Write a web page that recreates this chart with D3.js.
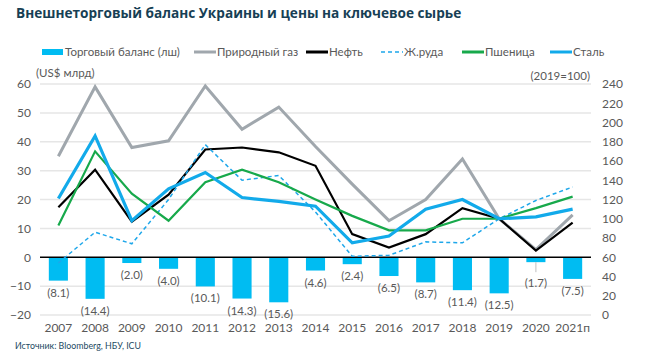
<!DOCTYPE html>
<html><head><meta charset="utf-8">
<script src="https://cdn.jsdelivr.net/npm/d3@7"></script>
<style>
body{margin:0;background:#fff;}
svg{display:block;font-family:Lato, "Open Sans", sans-serif;}
</style></head>
<body>
<svg id="c" width="659" height="356"></svg>
<script>
const years = ["2007","2008","2009","2010","2011","2012","2013","2014","2015","2016","2017","2018","2019","2020","2021п"];
const tradeBalance = [-8.1,-14.4,-2.0,-4.0,-10.1,-14.3,-15.6,-4.6,-2.4,-6.5,-8.7,-11.4,-12.5,-1.7,-7.5];
const gas   = [165,237,174,181,238,193,216,175,136,98,120,162,100,68,104];
const oil   = [112,151,97,125,172,174,169,155,84,70,84,111,100,67,96];
const ore   = [54,86,74,120,177,140,145,107,61,62,76,75,100,119,133];
const wheat = [93,170,126,98,138,151,138,120,103,88,88,100,100,111,123];
const steel = [121,186,98,131,148,122,118,113,75,82,110,120,100,102,110];
const leftTicks = [-20,-10,0,10,20,30,40,50,60];
const rightTicks = [0,20,40,60,80,100,120,140,160,180,200,220,240];

const svg = d3.select("#c");
const x = d3.scaleBand().domain(years).range([40,591]).paddingInner(0.48).paddingOuter(0.24);
const yL = d3.scaleLinear().domain([-20,60]).range([315,84]);
const yR = d3.scaleLinear().domain([0,240]).range([315,84]);
const cx = d => x(d) + x.bandwidth()/2;

// title
const title = svg.append("text").attr("x",16).attr("y",18)
  .attr("font-family","'Open Sans', sans-serif").attr("font-weight","bold").attr("font-size",15)
  .attr("fill","#173f55").text("Внешнеторговый баланс Украины и цены на ключевое сырье");
const tw = title.node().getComputedTextLength();
title.attr("font-size", 15*446/tw);

// grid
svg.append("g").selectAll("line").data(leftTicks.filter(d=>d!==0)).join("line")
  .attr("x1",40).attr("x2",591).attr("y1",d=>yL(d)).attr("y2",d=>yL(d))
  .attr("stroke","#e6e6e6").attr("stroke-width",1.5);

// left axis
const axL = d3.axisLeft(yL).tickValues(leftTicks).tickSize(0).tickPadding(0);
const gL = svg.append("g").attr("transform","translate(31,0)").call(axL);
gL.select(".domain").remove();
gL.selectAll("text").attr("font-size",12).attr("fill","#595959").attr("font-family","Lato, sans-serif");

// right axis
const axR = d3.axisRight(yR).tickValues(rightTicks).tickSize(0).tickPadding(0);
const gR = svg.append("g").attr("transform","translate(602,0)").call(axR);
gR.select(".domain").remove();
gR.selectAll("text").attr("font-size",12).attr("fill","#595959").attr("font-family","Lato, sans-serif");

// x axis labels
const axX = d3.axisBottom(x).tickSize(0).tickPadding(0);
const gX = svg.append("g").attr("transform","translate(0,323)").call(axX);
gX.select(".domain").remove();
gX.selectAll("text").attr("font-size",12).attr("fill","#595959").attr("font-family","Lato, sans-serif");

// unit labels
svg.append("text").attr("x",36).attr("y",77).attr("font-size",11.5).attr("fill","#595959").text("(US$ млрд)");
svg.append("text").attr("x",590).attr("y",80).attr("text-anchor","end").attr("font-size",11.5).attr("fill","#595959").text("(2019=100)");

// bars
const barColor = "#00bcf2";
svg.append("g").selectAll("rect").data(tradeBalance).join("rect")
  .attr("x",(d,i)=>x(years[i])).attr("width",x.bandwidth())
  .attr("y",yL(0)).attr("height",d=>yL(d)-yL(0)).attr("fill",barColor);

// bar labels
const fmt = d => "(" + Math.abs(d).toFixed(1) + ")";
svg.append("g").selectAll("text").data(tradeBalance).join("text")
  .attr("x",(d,i)=>cx(years[i]))
  .attr("y",(d,i)=> yL(d) + (i===13 ? 25 : 16))
  .attr("text-anchor","middle").attr("font-size",11.5).attr("fill","#595959")
  .text(fmt);
// leader line for small 2020 bar
svg.append("line").attr("x1",cx(years[13])).attr("x2",cx(years[13]))
  .attr("y1",yL(tradeBalance[13])).attr("y2",yL(tradeBalance[13])+10)
  .attr("stroke","#bfbfbf").attr("stroke-width",1);

// zero line
svg.append("line").attr("x1",40).attr("x2",591).attr("y1",yL(0)).attr("y2",yL(0))
  .attr("stroke","#000").attr("stroke-width",1.5);

// lines
const line = d3.line().x((d,i)=>cx(years[i])).y(d=>yR(d));
const series = [
  {data:gas, color:"#a0a7ad", w:3, dash:null},
  {data:oil, color:"#000000", w:2.2, dash:null},
  {data:ore, color:"#1ea7ea", w:1.5, dash:"4,3"},
  {data:wheat, color:"#17a94b", w:2.2, dash:null},
  {data:steel, color:"#12aaea", w:3.2, dash:null}
];
svg.append("g").selectAll("path").data(series).join("path")
  .attr("d",s=>line(s.data)).attr("fill","none")
  .attr("stroke",s=>s.color).attr("stroke-width",s=>s.w)
  .attr("stroke-dasharray",s=>s.dash).attr("stroke-linejoin","miter");

// legend
const legend = [
  {label:"Торговый баланс (лш)", x:42, type:"bar", color:barColor},
  {label:"Природный газ", x:194, type:"line", color:"#a0a7ad", w:3},
  {label:"Нефть", x:306, type:"line", color:"#000", w:3},
  {label:"Ж.руда", x:381, type:"dash", color:"#1ea7ea", w:1.5},
  {label:"Пшеница", x:462, type:"line", color:"#17a94b", w:3},
  {label:"Сталь", x:550, type:"line", color:"#12aaea", w:3}
];
const lg = svg.append("g");
legend.forEach(l=>{
  if(l.type==="bar"){
    lg.append("rect").attr("x",l.x).attr("y",49).attr("width",21).attr("height",6).attr("fill",l.color);
  } else {
    lg.append("line").attr("x1",l.x).attr("x2",l.x+22).attr("y1",52).attr("y2",52)
      .attr("stroke",l.color).attr("stroke-width",l.w).attr("stroke-dasharray",l.type==="dash"?"4,3":null);
  }
  lg.append("text").attr("x",l.x+23).attr("y",56).attr("font-size",11.5).attr("fill","#595959").text(l.label);
});

// source
const src = svg.append("text").attr("x",15).attr("y",349).attr("font-size",10).attr("fill","#1d4a63").text("Источник: Bloomberg, НБУ, ICU");
const sw = src.node().getComputedTextLength();
src.attr("font-size", 10*126/sw);
</script>
</body></html>
